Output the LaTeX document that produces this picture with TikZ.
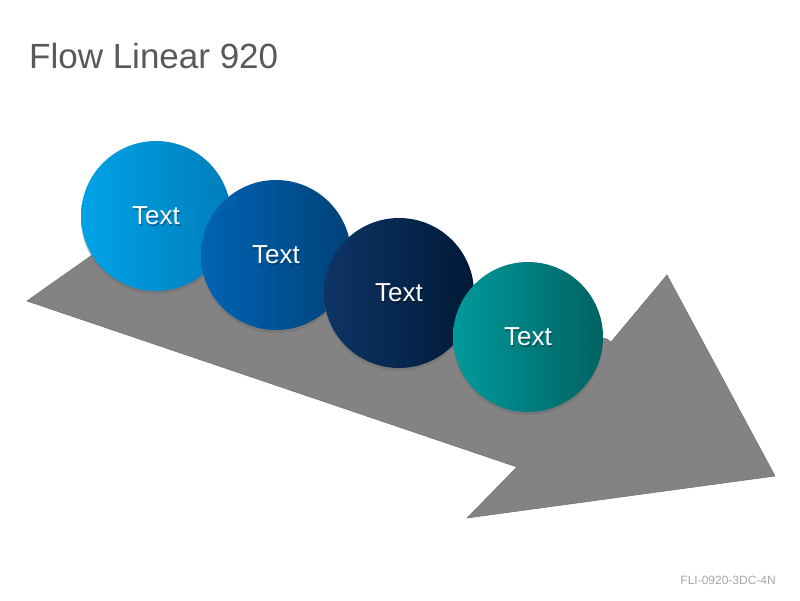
\documentclass[tikz,border=0pt]{standalone}
\usepackage{fontspec}
\setmainfont{Liberation Sans}
\usetikzlibrary{shadows,fadings}
\definecolor{arrowgray}{HTML}{838383}
\definecolor{arrowedge}{HTML}{757575}
\definecolor{titlegray}{HTML}{595959}
\definecolor{footgray}{HTML}{A6A6A6}
\definecolor{aL}{HTML}{00A3E8}
\definecolor{aR}{HTML}{007DBA}
\definecolor{bL}{HTML}{0064B4}
\definecolor{bR}{HTML}{004278}
\definecolor{cL}{HTML}{0E3466}
\definecolor{cR}{HTML}{001A36}
\definecolor{dL}{HTML}{009A9C}
\definecolor{dR}{HTML}{006262}
\tikzset{
  ball/.style={circle, minimum size=150pt, inner sep=0pt,
    drop shadow={shadow xshift=0pt, shadow yshift=-3pt, opacity=0.35, fill=black!60}},
  balltxt/.style={text=white, font=\fontsize{26}{30}\selectfont},
  balltxtshadow/.style={text=black, opacity=0.3, font=\fontsize{26}{30}\selectfont},
  arrowshape/.style={fill=arrowgray, draw=arrowedge, line width=0.6pt, line join=miter},
}
\begin{document}
\begin{tikzpicture}[x=1pt,y=-1pt]
\useasboundingbox (0,0) rectangle (800,600);
\fill[white] (0,0) rectangle (800,600);
% title and footer
\node[anchor=base west, inner sep=0pt, text=titlegray, font=\fontsize{35}{40}\selectfont] (title) at (29,68) {Flow Linear 920};
\node[anchor=base east, inner sep=0pt, text=footgray, font=\fontsize{12}{14}\selectfont] (foot) at (776,584) {FLI-0920-3DC-4N};
% arrow
\coordinate (p1) at (27,301);
\coordinate (p2) at (105,246);
\coordinate (p3) at (607,339);
\coordinate (p4) at (611,342);
\coordinate (p5) at (667,275);
\coordinate (p6) at (775,476);
\coordinate (p7) at (467,518);
\coordinate (p8) at (517,467);
\path[arrowshape] (p1) -- (p2) -- (p3) -- (p4) -- (p5) -- (p6) -- (p7) -- (p8) -- cycle;
% balls
\node[ball, left color=aL, right color=aR] (c1) at (156,216) {};
\node[balltxtshadow] at ([shift={(1,1.5)}]c1.center) {Text};
\node[balltxt] (t1) at (c1.center) {Text};
\node[ball, left color=bL, right color=bR] (c2) at (276,255) {};
\node[balltxtshadow] at ([shift={(1,1.5)}]c2.center) {Text};
\node[balltxt] (t2) at (c2.center) {Text};
\node[ball, left color=cL, right color=cR] (c3) at (399,293) {};
\node[balltxtshadow] at ([shift={(1,1.5)}]c3.center) {Text};
\node[balltxt] (t3) at (c3.center) {Text};
\node[ball, left color=dL, right color=dR] (c4) at (528,337) {};
\node[balltxtshadow] at ([shift={(1,1.5)}]c4.center) {Text};
\node[balltxt] (t4) at (c4.center) {Text};
\end{tikzpicture}
\end{document}
